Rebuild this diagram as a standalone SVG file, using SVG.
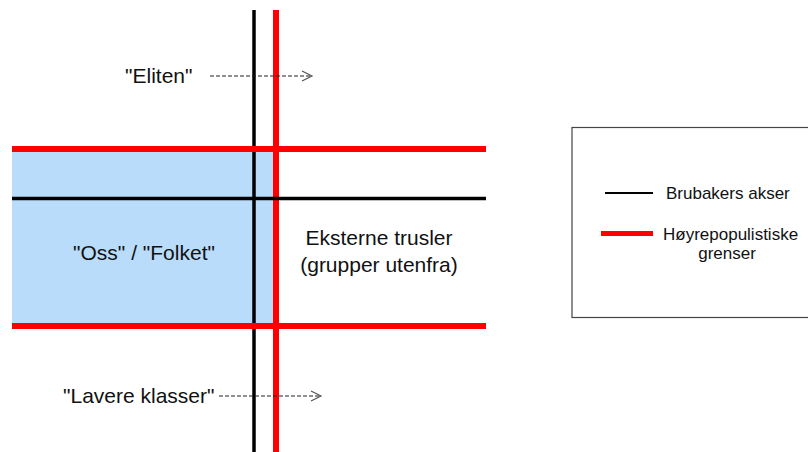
<svg xmlns="http://www.w3.org/2000/svg" width="808" height="452" viewBox="0 0 808 452">
<style>
text{font-family:"Liberation Sans",Arial,sans-serif;fill:#111}
.main{font-size:21px}
.leg{font-size:17px}
.blk{stroke:#000;stroke-width:3.5}
.red{stroke:#f00;stroke-width:6}
.dash{stroke:#222;stroke-width:1.2;stroke-dasharray:4 2;fill:none}
.head{stroke:#555;stroke-width:1.2;fill:none}
</style>
<rect width="808" height="452" fill="#fff"/>
<g id="oss">
<rect x="12" y="149" width="262" height="177" fill="#b9dcfb"/>
<text class="main" x="144" y="260" text-anchor="middle">"Oss" / "Folket"</text>
</g>
<g id="connectors">
<line class="blk" x1="254" y1="10" x2="254" y2="452"/>
<line class="red" x1="276" y1="10" x2="276" y2="452"/>
<line class="red" x1="12" y1="149" x2="486" y2="149"/>
<line class="blk" x1="12" y1="198.5" x2="486" y2="198.5"/>
<line class="red" x1="12" y1="326" x2="486" y2="326"/>
<line class="dash" x1="210" y1="76" x2="311" y2="76"/>
<polyline class="head" points="302,71 312,76 302,81"/>
<line class="dash" x1="219" y1="396" x2="320" y2="396"/>
<polyline class="head" points="311,391 321,396 311,401"/>
</g>
<g id="eliten">
<text class="main" x="125" y="83">"Eliten"</text>
</g>
<g id="lavere">
<text class="main" x="63" y="403">"Lavere klasser"</text>
</g>
<g id="eksterne">
<text class="main" x="379" y="245" text-anchor="middle">Eksterne trusler</text>
<text class="main" x="379" y="272" text-anchor="middle">(grupper utenfra)</text>
</g>
<g id="legend">
<rect x="572" y="127.5" width="240" height="190" fill="#fff" stroke="#444" stroke-width="1.2"/>
<line x1="605" y1="193" x2="653" y2="193" stroke="#000" stroke-width="2.2"/>
<text class="leg" x="666" y="199">Brubakers akser</text>
<line x1="601" y1="233.5" x2="653" y2="233.5" stroke="#f00" stroke-width="5"/>
<text class="leg" x="663" y="240">Høyrepopulistiske</text>
<text class="leg" x="727" y="259" text-anchor="middle">grenser</text>
</g>
</svg>
